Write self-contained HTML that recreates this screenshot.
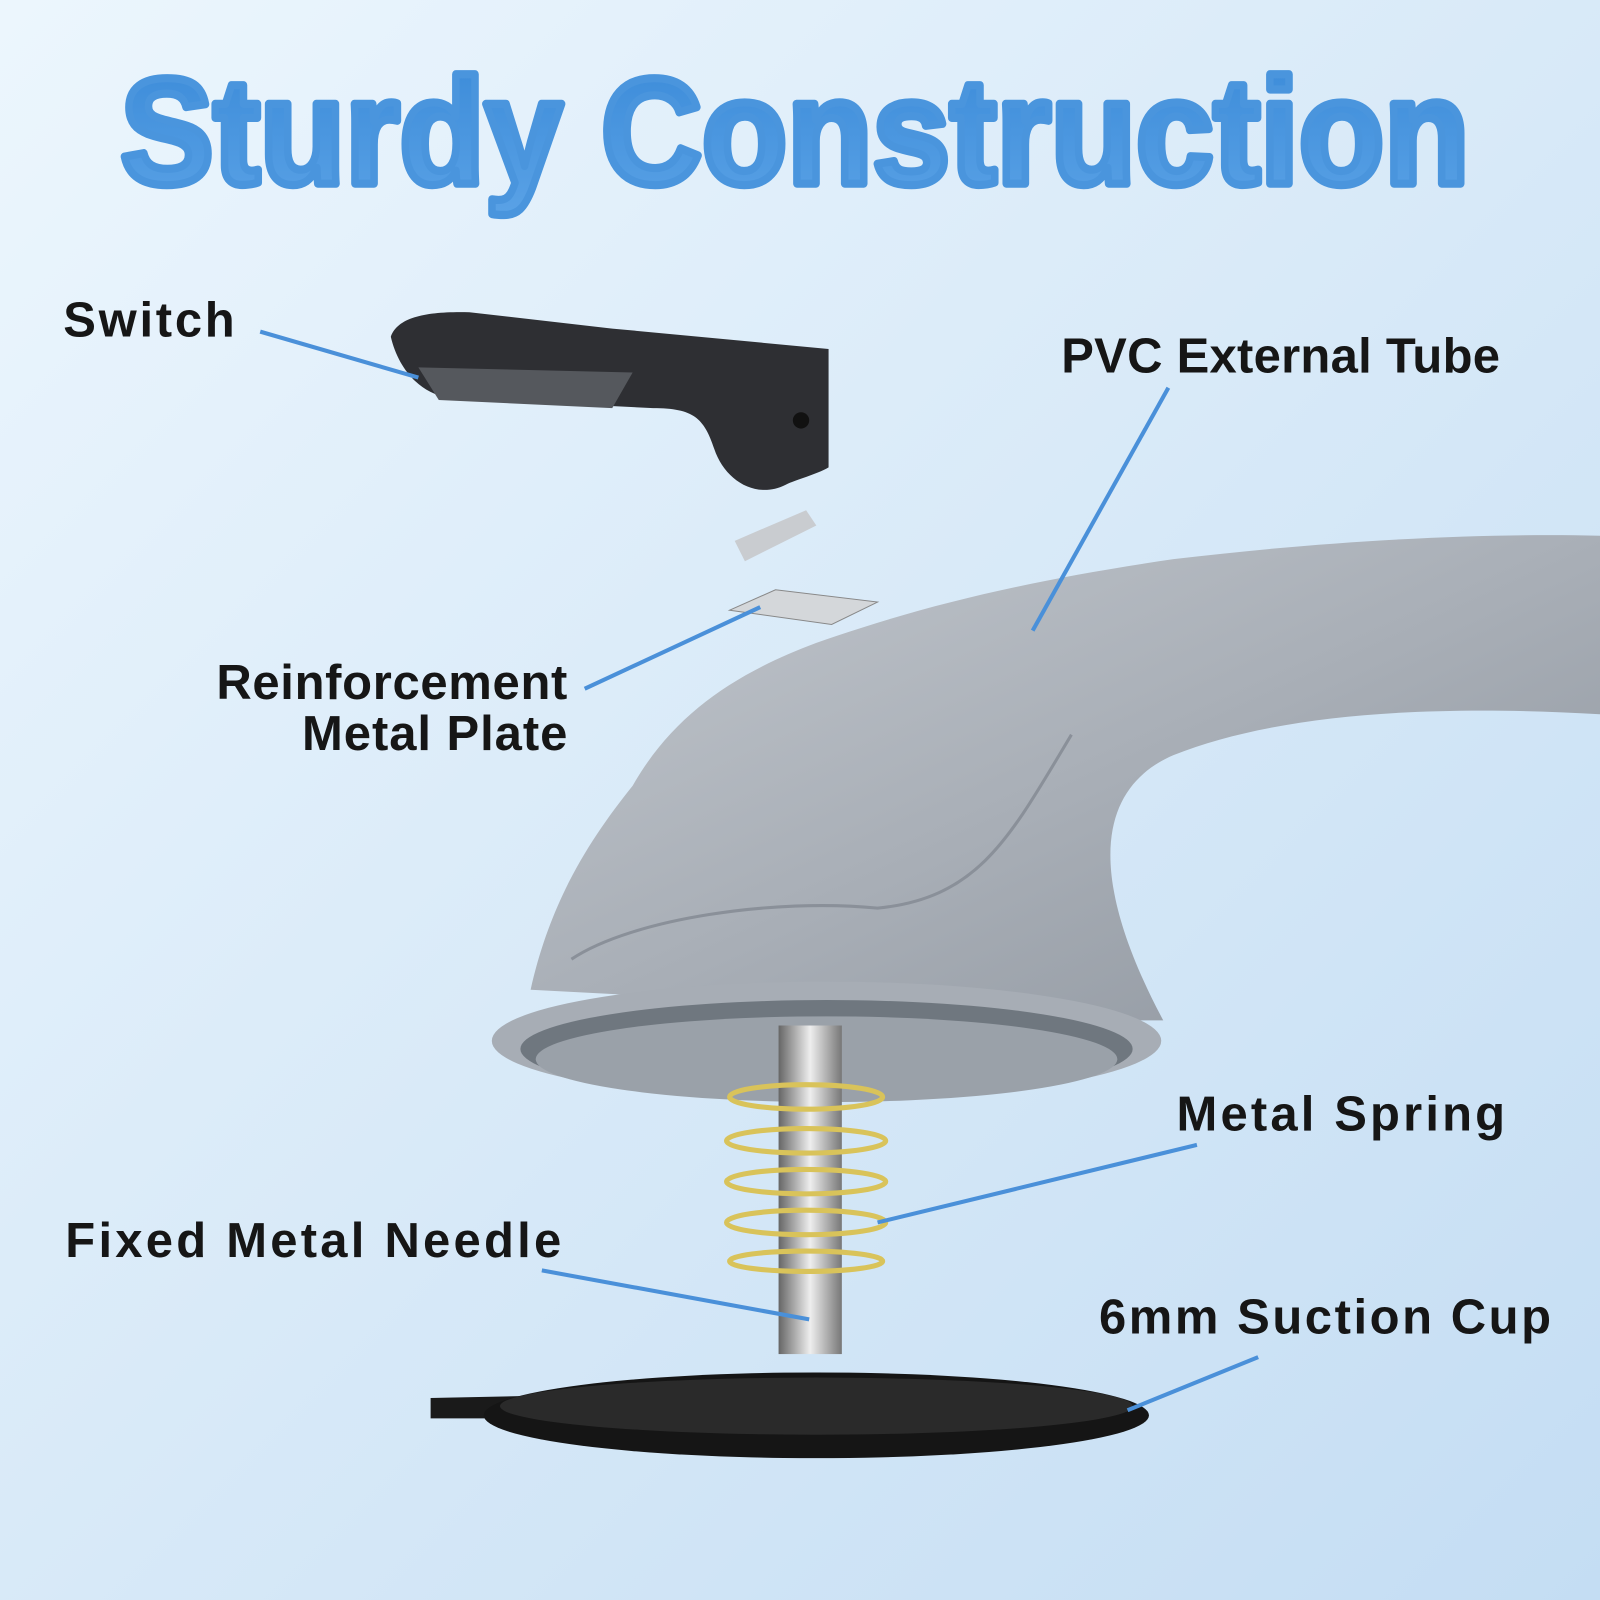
<!DOCTYPE html>
<html><head><meta charset="utf-8"><style>html,body{margin:0;padding:0;width:1600px;height:1600px;overflow:hidden}</style></head>
<body>
<svg width="1600" height="1600" viewBox="0 0 1568 1568" xmlns="http://www.w3.org/2000/svg">
<defs>
<linearGradient id="bg" x1="0" y1="0" x2="1" y2="1"><stop offset="0" stop-color="#ecf6fd"/><stop offset="1" stop-color="#c4ddf3"/></linearGradient>
<linearGradient id="tt" x1="0" y1="0" x2="0" y2="1"><stop offset="0" stop-color="#3a8ad8"/><stop offset="1" stop-color="#5aa2e6"/></linearGradient>
<linearGradient id="gr" x1="0" y1="0" x2="1" y2="1"><stop offset="0" stop-color="#c2c7cd"/><stop offset="0.5" stop-color="#a9afb7"/><stop offset="1" stop-color="#8e959e"/></linearGradient>
<linearGradient id="nd" x1="0" y1="0" x2="1" y2="0"><stop offset="0" stop-color="#666"/><stop offset="0.5" stop-color="#eee"/><stop offset="1" stop-color="#777"/></linearGradient>
</defs>
<rect width="1568" height="1568" fill="url(#bg)"/>
<text x="118" y="180" font-family="Liberation Sans, sans-serif" font-weight="900" font-size="148" fill="url(#tt)" textLength="1322" lengthAdjust="spacingAndGlyphs" stroke="#4a95dd" stroke-width="8" stroke-linejoin="round">Sturdy Construction</text>

<path d="M520 970 C540 880 580 820 620 770 C660 700 720 660 800 630 C900 595 1000 570 1150 548 C1300 530 1450 522 1568 525 L1568 700 C1400 690 1250 700 1150 740 C1080 770 1060 850 1140 1000 L1100 1000 Z" fill="url(#gr)"/>
<path d="M560 940 C620 900 760 880 860 890 C960 880 990 820 1050 720" fill="none" stroke="#8a9099" stroke-width="3"/>
<ellipse cx="810" cy="1020" rx="328" ry="58" fill="#a7adb5"/>
<ellipse cx="810" cy="1028" rx="300" ry="48" fill="#6f777f"/>
<ellipse cx="810" cy="1038" rx="285" ry="42" fill="#9aa1a9"/>

<rect x="763" y="1005" width="62" height="322" fill="url(#nd)"/>
<g fill="none" stroke="#d9c35a" stroke-width="5">
<ellipse cx="790" cy="1075" rx="75" ry="12"/>
<ellipse cx="790" cy="1118" rx="78" ry="12"/>
<ellipse cx="790" cy="1158" rx="78" ry="12"/>
<ellipse cx="790" cy="1198" rx="78" ry="12"/>
<ellipse cx="790" cy="1236" rx="75" ry="10"/>
</g>
<path d="M422 1370 L520 1368 L520 1390 L422 1390 Z" fill="#1a1a1a"/>
<ellipse cx="800" cy="1387" rx="326" ry="42" fill="#151515"/>
<ellipse cx="800" cy="1378" rx="310" ry="28" fill="#2a2a2a"/>

<path d="M383 330 C390 310 420 305 460 306 L600 322 L812 342 L812 458 C800 465 780 470 770 475 C740 490 710 470 700 440 C690 410 680 400 640 400 L440 390 C410 385 390 360 383 330 Z" fill="#2e2f33"/>
<path d="M410 360 L620 365 L600 400 L430 392 Z" fill="#55585d"/>
<circle cx="785" cy="412" r="8" fill="#111"/>
<path d="M720 530 L790 500 L800 515 L730 550 Z" fill="#c9ccd0"/>
<path d="M715 598 L760 578 L860 590 L815 612 Z" fill="#d4d7da" stroke="#888" stroke-width="1"/>

<g stroke="#4a90d9" stroke-width="4" fill="none">
<line x1="255" y1="325" x2="410" y2="370"/>
<line x1="1145" y1="380" x2="1012" y2="618"/>
<line x1="573" y1="675" x2="745" y2="595"/>
<line x1="1173" y1="1122" x2="860" y2="1198"/>
<line x1="531" y1="1245" x2="793" y2="1293"/>
<line x1="1233" y1="1330" x2="1105" y2="1382"/>
</g>
<g font-family="Liberation Sans, sans-serif" font-weight="bold" font-size="48" fill="#161616">
<text x="62" y="330" textLength="168">Switch</text>
<text x="1040" y="365" textLength="430">PVC External Tube</text>
<text x="212" y="685" textLength="344">Reinforcement</text>
<text x="296" y="735" textLength="260">Metal Plate</text>
<text x="1153" y="1108" textLength="322">Metal Spring</text>
<text x="64" y="1232" textLength="486">Fixed Metal Needle</text>
<text x="1077" y="1307" textLength="443">6mm Suction Cup</text>
</g>
</svg>
</body></html>
